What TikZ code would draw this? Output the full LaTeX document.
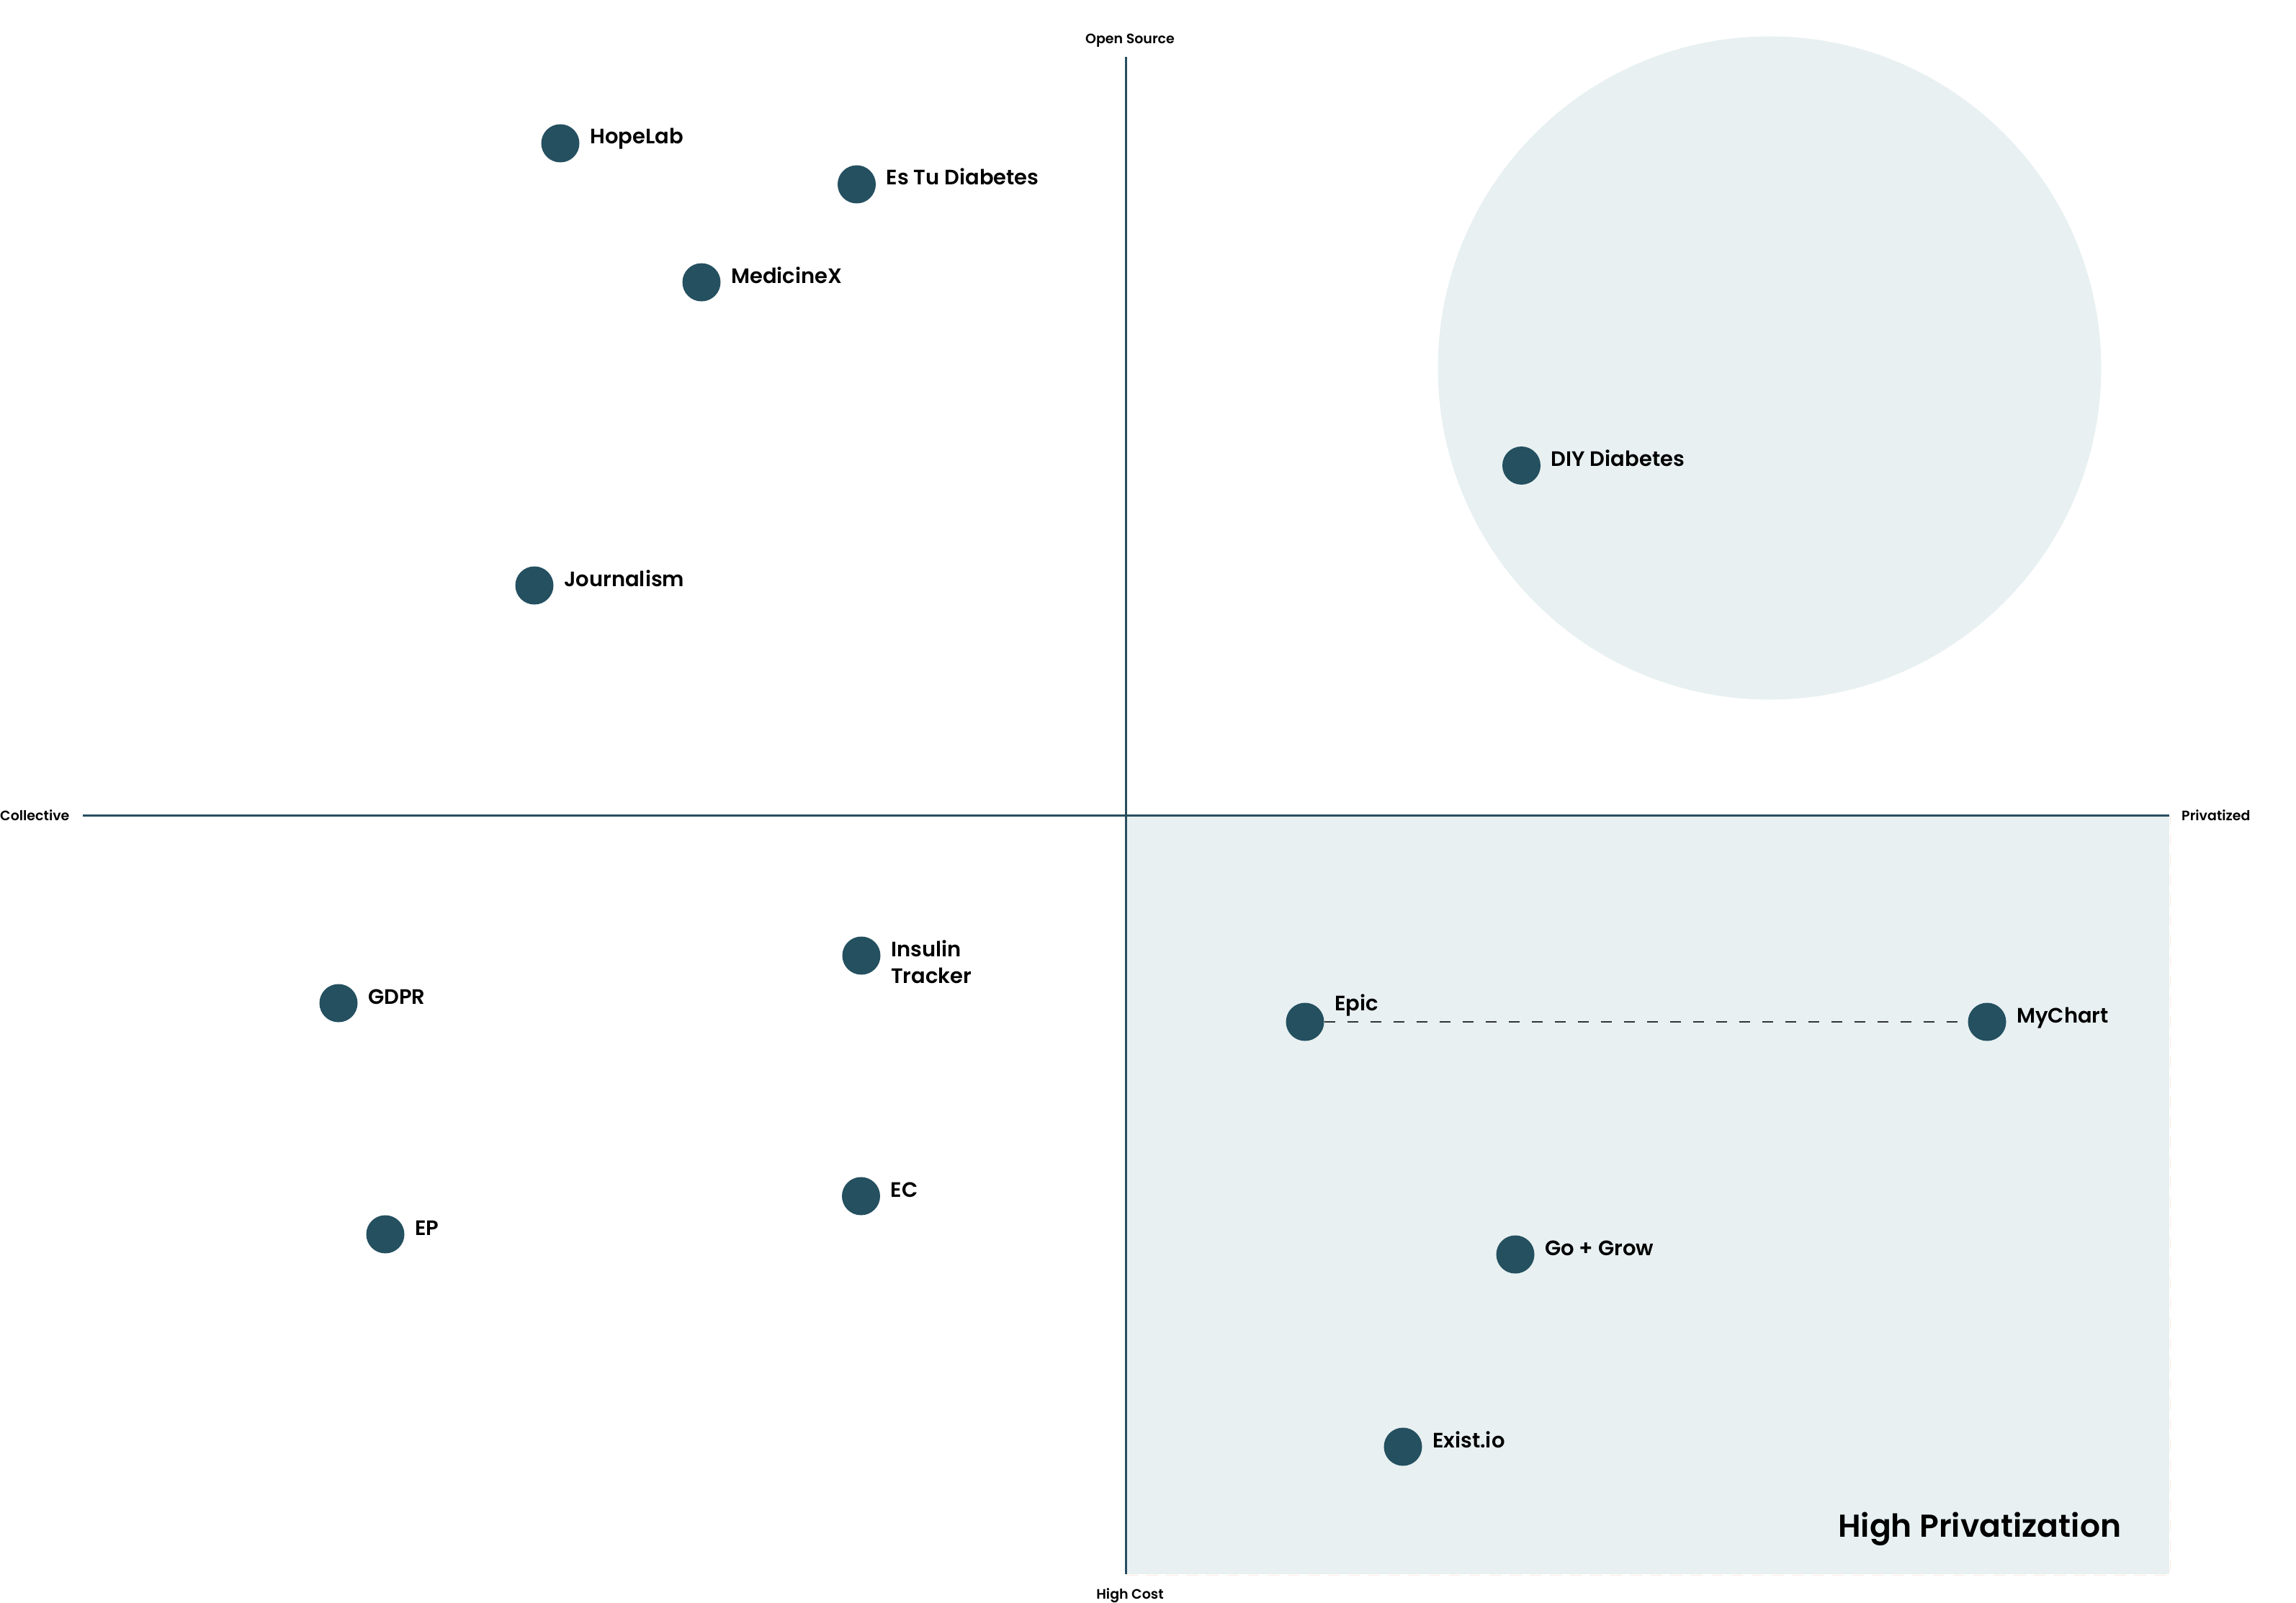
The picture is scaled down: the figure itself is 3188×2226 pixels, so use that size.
\documentclass[tikz,border=0pt]{standalone}
\usepackage{fontspec}
\setmainfont{Poppins}[BoldFont={Poppins SemiBold}]
\definecolor{dotc}{RGB}{36,80,96}
\definecolor{axisc}{RGB}{40,78,94}
\definecolor{lightc}{RGB}{232,240,241}
\definecolor{peachc}{RGB}{252,236,226}
\tikzset{
  dot/.style={circle, fill=dotc, minimum size=53pt, inner sep=0pt},
  lbl/.style={font=\fontsize{29}{37}\selectfont\bfseries, anchor=base west, inner sep=0pt, align=left},
  axlbl/.style={font=\fontsize{19}{22}\selectfont\bfseries, inner sep=0pt},
  axisline/.style={draw=axisc, line width=3pt},
}
\begin{document}
\begin{tikzpicture}[x=1pt, y=-1pt]
\useasboundingbox (0,0) rectangle (3188,2226);
% background shapes
\fill[lightc] (1563.5,1132.5) rectangle (3012,2186);
\draw[peachc, line width=1.5pt, dash pattern=on 16pt off 12pt] (1563.5,2187.5) -- (3013.5,2187.5) -- (3013.5,1132.5);
\fill[lightc] (2457,511) circle (460.5);
% axes
\coordinate (ytop) at (1563.5,79);
\coordinate (ybot) at (1563.5,2186);
\coordinate (xl) at (115,1132.5);
\coordinate (xr) at (3012,1132.5);
\draw[axisline] (ytop) -- (ybot);
\draw[axisline] (xl) -- (xr);
\node[axlbl, anchor=base] (open) at (1569,61) {Open Source};
\node[axlbl, anchor=base west] (coll) at (0,1139) {Collective};
\node[axlbl, anchor=base west] (priv) at (3029,1139) {Privatized};
\node[axlbl, anchor=base] (cost) at (1569,2220) {High Cost};
% dots
\node[dot] (hopelab) at (778,199) {};
\node[dot] (estu) at (1189.5,256) {};
\node[dot] (medx) at (974,392) {};
\node[dot] (diy) at (2112.5,646.5) {};
\node[dot] (journ) at (742,813) {};
\node[dot] (insulin) at (1196,1327) {};
\node[dot] (gdpr) at (470,1393) {};
\node[dot] (epic) at (1812,1419) {};
\node[dot] (mychart) at (2759,1419) {};
\node[dot] (ec) at (1195.5,1661) {};
\node[dot] (ep) at (535,1714) {};
\node[dot] (gogrow) at (2104,1742) {};
\node[dot] (exist) at (1948,2009) {};
% labels
\node[lbl] (hopelabL) at ([shift={(41,1)}]hopelab.center) {HopeLab};
\node[lbl] (estuL) at ([shift={(41,1)}]estu.center) {Es Tu Diabetes};
\node[lbl] (medxL) at ([shift={(41,1)}]medx.center) {MedicineX};
\node[lbl] (diyL) at ([shift={(41,1)}]diy.center) {DIY Diabetes};
\node[lbl] (journL) at ([shift={(41,1)}]journ.center) {Journalism};
\node[lbl] (insulinL) at ([shift={(41,38)}]insulin.center) {Insulin\\Tracker};
\node[lbl] (gdprL) at ([shift={(41,1)}]gdpr.center) {GDPR};
\node[lbl] (epicL) at ([shift={(41,-16)}]epic.center) {Epic};
\node[lbl] (mychartL) at ([shift={(41,1)}]mychart.center) {MyChart};
\node[lbl] (ecL) at ([shift={(41,1)}]ec.center) {EC};
\node[lbl] (epL) at ([shift={(41,1)}]ep.center) {EP};
\node[lbl] (gogrowL) at ([shift={(41,1)}]gogrow.center) {Go + Grow};
\node[lbl] (existL) at ([shift={(41,1)}]exist.center) {Exist.io};
% connector
\draw[black!80, line width=1.5pt, dash pattern=on 15pt off 17pt] (epic.east) -- (mychart.west);
% quadrant title
\node[font=\fontsize{44}{52}\selectfont\bfseries, anchor=base west, inner sep=0pt] (highp) at (2552,2134) {High Privatization};
\end{tikzpicture}
\end{document}
